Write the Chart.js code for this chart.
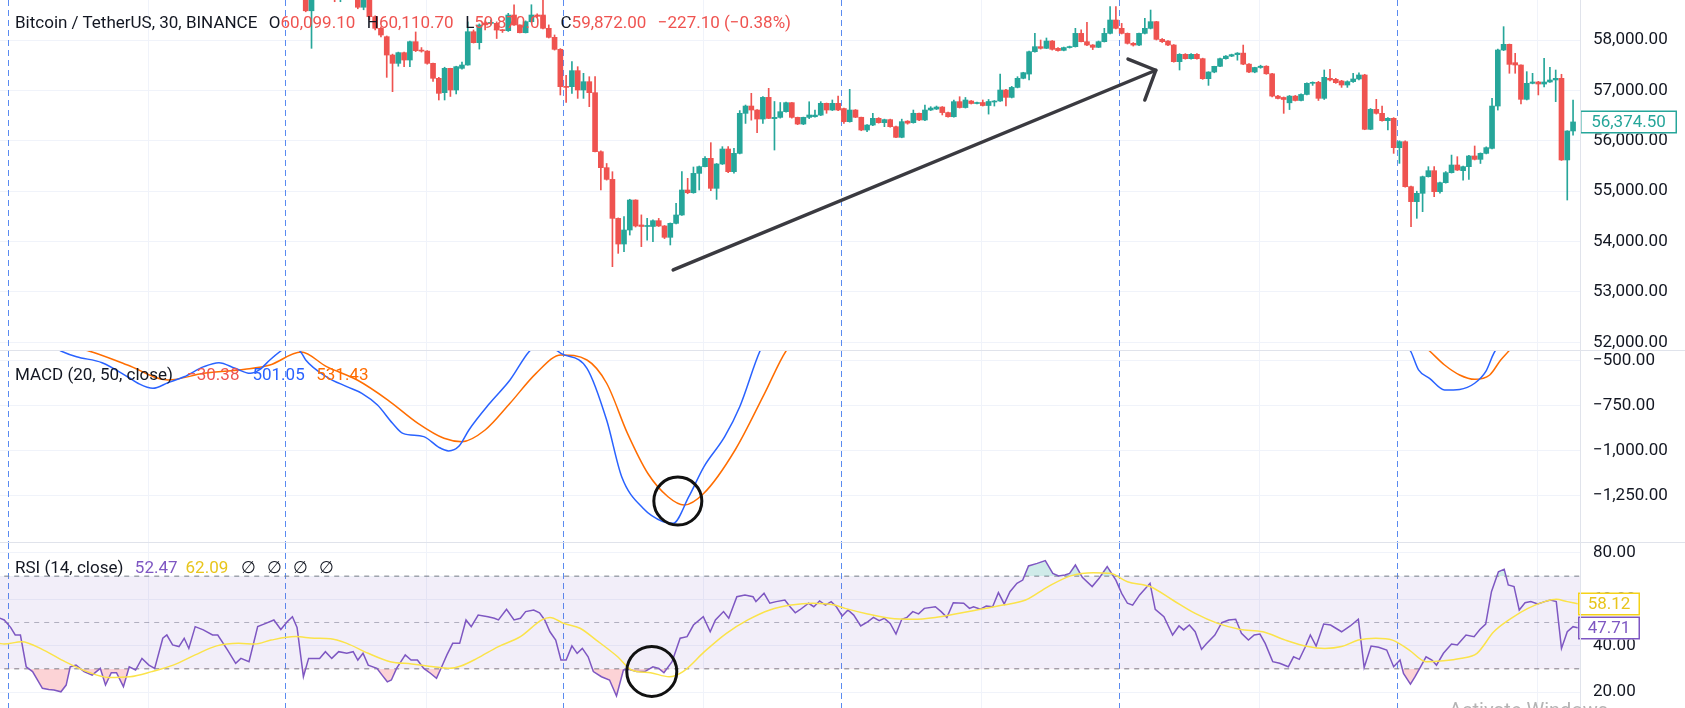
<!DOCTYPE html>
<html>
<head>
<meta charset="UTF-8">
<title>Bitcoin / TetherUS, 30, BINANCE</title>
<script src="https://cdn.jsdelivr.net/npm/chart.js"></script>
<style>
    body { margin: 0; background: #ffffff; font-family: Roboto, sans-serif; }
    #chart { position: relative; width: 1685px; height: 708px; overflow: hidden; }
    #chart canvas { position: absolute; left: 0; }
    .sep { position: absolute; background: #e0e3eb; }
    .legend { position: absolute; left: 15px; font-size: 17px; line-height: 20px; color: #131722; white-space: nowrap; }
    .legend span { margin-left: 11.5px; }
    .legend span.v { margin-left: 0; }
    .red { color: #ef5350; }
    .watermark { position: absolute; left: 1449px; top: 700px; font-size: 20px; line-height: 20px; color: #b4b4b4; white-space: nowrap; }
</style>
</head>
<body>
<div id="chart">
    <canvas id="priceCanvas" width="1685" height="350" style="top:0"></canvas>
    <canvas id="macdCanvas" width="1685" height="191" style="top:351px"></canvas>
    <canvas id="rsiCanvas" width="1685" height="165" style="top:543px"></canvas>
    <div class="sep" style="left:0;top:350px;width:1685px;height:1px"></div>
    <div class="sep" style="left:0;top:542px;width:1685px;height:1px"></div>
    <div class="sep" style="left:1580px;top:0;width:1px;height:708px"></div>

    <div class="legend" style="top:12px">Bitcoin / TetherUS, 30, BINANCE<span>O</span><span class="v red">60,099.10</span><span>H</span><span class="v red">60,110.70</span><span>L</span><span class="v red">59,870.01</span><span>C</span><span class="v red">59,872.00</span><span class="red">&minus;227.10 (&minus;0.38%)</span></div>
    <div class="legend" style="top:364px">MACD (20, 50, close)<span style="color:#ef5350;margin-left:14px">&minus;30.38</span><span style="color:#2962ff;margin-left:13px">501.05</span><span style="color:#ff6d00">531.43</span></div>
    <div class="legend" style="top:557px">RSI (14, close)<span style="color:#7e57c2">52.47</span><span style="color:#e8c51c;margin-left:8px">62.09</span><span style="margin-left:13px">&empty;</span><span style="margin-left:11px">&empty;</span><span style="margin-left:11px">&empty;</span><span style="margin-left:11px">&empty;</span></div>
    <div class="watermark">Activate Windows</div>
</div>

<script>
    // candles, index counted in 30 minute bars from the first session break
    const firstCandle = 51;
    const opens = [
        58900, 58580, 58850, 59050, 59200, 59000, 58950, 59050, 59150, 58900,
        58650, 58850, 58463, 58232, 58066, 57702, 57537, 57749, 57603, 57967,
        57800, 57780, 57537, 57240, 56955, 57438, 57008, 57438, 57504, 58165,
        57947, 58340, 58330, 58331, 58198, 58185, 58496, 58298, 58145, 58364,
        58496, 58496, 58232, 58053, 57815, 57074, 57074, 57392, 57008, 57173,
        56955, 55784, 55467, 55235, 54461, 53952, 54230, 54825, 54330, 54300,
        54300, 54415, 54310, 54085, 54362, 54528, 55024, 54970, 55354, 55487,
        55652, 55057, 55540, 55837, 55387, 55751, 56545, 56690, 56611, 56432,
        56862, 56440, 56465, 56578, 56757, 56465, 56333, 56465, 56478, 56510,
        56744, 56611, 56744, 56640, 56380, 56611, 56467, 56214, 56313, 56446,
        56360, 56420, 56280, 56069, 56390, 56360, 56546, 56413, 56611, 56630,
        56670, 56560, 56478, 56777, 56660, 56790, 56740, 56760, 56700, 56770,
        56790, 57008, 56862, 57060, 57240, 57325, 57768, 57868, 57835, 57980,
        57835, 57795, 57850, 57868, 58132, 57967, 57901, 57855, 57967, 58132,
        58397, 58232, 58132, 57934, 57900, 58132, 58232, 58364, 58013, 57980,
        57901, 57570, 57716, 57630, 57716, 57630, 57233, 57365, 57478, 57630,
        57680, 57710, 57740, 57521, 57365, 57455, 57480, 57330, 56887, 56860,
        56754, 56887, 56800, 56920, 57141, 57160, 56843, 57240, 57220, 57187,
        57107, 57174, 57227, 57306, 56228, 56624, 56545, 56400, 56446, 55864,
        55983, 55090, 54793, 54958, 55288, 55407, 54991, 55169, 55368, 55520,
        55407, 55487, 55699, 55632, 55751, 55850, 56690, 57802, 57914, 57550,
        57504, 56823, 57140, 57167, 57127, 57167, 57207, 57240, 55620, 56195
    ];
    const highs = [
        59000, 58950, 59150, 59300, 59350, 59150, 59100, 59250, 59200, 58950,
        58900, 58900, 58480, 58260, 58080, 57720, 57760, 57760, 57980, 58160,
        57850, 57790, 57540, 57260, 57460, 57440, 57480, 57560, 58360, 58200,
        58320, 58380, 58400, 58360, 58210, 58530, 58700, 58300, 58380, 58700,
        58520, 58794, 58300, 58100, 57830, 57300, 57570, 57471, 57339, 57272,
        57272, 55800, 55550, 55387, 54470, 54495, 54840, 54830, 54530, 54460,
        54430, 54460, 54320, 54370, 54760, 55387, 55255, 55480, 55500, 55685,
        55963, 55550, 55884, 55884, 55850, 56600, 56710, 56942, 56620, 56880,
        57041, 56780, 56760, 56770, 56760, 56470, 56470, 56775, 56611, 56777,
        56750, 56810, 56888, 56650, 57021, 56620, 56470, 56320, 56546, 56460,
        56430, 56430, 56290, 56430, 56400, 56611, 56550, 56710, 56677, 56690,
        56680, 56570, 56810, 56875, 56860, 56800, 56770, 56810, 56820, 56800,
        57325, 57020, 57080, 57272, 57360, 57780, 58132, 58000, 58040, 57990,
        57850, 57860, 57880, 58232, 58200, 58350, 57910, 57980, 58232, 58662,
        58662, 58330, 58140, 57950, 58140, 58430, 58595, 58370, 58030, 57990,
        57910, 57730, 57730, 57730, 57730, 57640, 57370, 57480, 57640, 57690,
        57720, 57750, 57900, 57530, 57460, 57500, 57490, 57340, 56900, 56870,
        56900, 56900, 56930, 57150, 57170, 57180, 57405, 57418, 57240, 57200,
        57190, 57340, 57350, 57320, 56640, 56823, 56690, 56460, 56460, 56000,
        56000, 55100, 55000, 55300, 55487, 55487, 55180, 55390, 55717, 55685,
        55500, 55710, 55897, 55760, 55880, 56843, 57820, 58265, 57920, 57736,
        57510, 57372, 57339, 57180, 57636, 57458, 57405, 57320, 56200, 56810
    ];
    const lows = [
        58560, 57835, 58830, 59000, 58950, 58760, 58760, 58950, 58850, 58620,
        58600, 58400, 58200, 58060, 57259, 56975, 57480, 57470, 57470, 57770,
        57760, 57520, 57180, 56810, 56810, 56880, 56930, 57420, 57500, 57940,
        57820, 58200, 58300, 58030, 58150, 58170, 58290, 58140, 58140, 58350,
        58450, 58220, 58040, 57800, 56909, 56760, 56940, 56842, 56842, 56677,
        55780, 55024, 55220, 53502, 53767, 53800, 54130, 54290, 53900, 54030,
        54000, 54300, 54060, 53933, 54350, 54520, 54950, 54960, 55024, 55480,
        55010, 54838, 55530, 55370, 55360, 55740, 56345, 56410, 56161, 56345,
        56440, 55817, 56450, 56570, 56450, 56320, 56320, 56440, 56470, 56500,
        56546, 56600, 56600, 56347, 56370, 56460, 56200, 56180, 56300, 56350,
        56280, 56270, 56060, 56060, 56330, 56350, 56400, 56400, 56600, 56620,
        56513, 56470, 56470, 56650, 56650, 56730, 56730, 56690, 56530, 56690,
        56780, 56690, 56850, 57050, 57230, 57210, 57760, 57820, 57830, 57800,
        57780, 57785, 57840, 57860, 57960, 57890, 57810, 57850, 57960, 58120,
        58220, 58120, 57920, 57880, 57890, 58120, 58220, 58000, 57950, 57890,
        57560, 57405, 57620, 57620, 57620, 57220, 57100, 57350, 57470, 57620,
        57670, 57600, 57510, 57350, 57350, 57440, 57320, 56870, 56830, 56545,
        56620, 56790, 56790, 56910, 57100, 56800, 56820, 57190, 57140, 57060,
        57060, 57160, 57210, 56220, 56220, 56530, 56390, 56215, 55751, 55553,
        55080, 54296, 54462, 54594, 55280, 54890, 54960, 55160, 55360, 55410,
        55220, 55235, 55620, 55550, 55740, 55840, 56610, 57790, 57340, 57340,
        56730, 56810, 57130, 56910, 57070, 57160, 56777, 55610, 54825, 56110
    ];
    const closes = [
        58580, 58850, 59050, 59200, 59000, 58950, 59050, 59150, 58900, 58650,
        58850, 58463, 58232, 58099, 57702, 57537, 57749, 57603, 57967, 57788,
        57780, 57537, 57240, 56942, 57438, 57008, 57471, 57504, 58165, 57947,
        58298, 58300, 58345, 58198, 58185, 58496, 58298, 58145, 58364, 58496,
        58470, 58232, 58053, 57815, 57074, 57060, 57392, 57008, 57173, 56955,
        55784, 55467, 55235, 54461, 53952, 54230, 54825, 54310, 54300, 54320,
        54415, 54310, 54085, 54362, 54528, 55024, 54970, 55354, 55487, 55652,
        55057, 55540, 55837, 55387, 55751, 56545, 56690, 56611, 56432, 56862,
        56445, 56465, 56578, 56757, 56465, 56333, 56465, 56512, 56510, 56744,
        56611, 56744, 56611, 56380, 56611, 56467, 56214, 56313, 56446, 56360,
        56420, 56280, 56069, 56380, 56350, 56546, 56413, 56611, 56650, 56670,
        56560, 56478, 56777, 56660, 56810, 56740, 56760, 56700, 56780, 56790,
        57008, 56862, 57060, 57240, 57352, 57768, 57868, 57835, 57980, 57815,
        57790, 57850, 57868, 58132, 57967, 57901, 57855, 57967, 58132, 58397,
        58232, 58132, 57934, 57900, 58132, 58232, 58364, 58013, 57967, 57901,
        57570, 57716, 57630, 57716, 57630, 57233, 57365, 57478, 57630, 57680,
        57710, 57740, 57521, 57365, 57455, 57480, 57330, 56887, 56840, 56820,
        56887, 56800, 56920, 57141, 57160, 56843, 57260, 57207, 57154, 57107,
        57174, 57227, 57306, 56228, 56624, 56545, 56400, 56446, 55864, 55983,
        55090, 54793, 54958, 55288, 55407, 54991, 55169, 55368, 55520, 55420,
        55487, 55699, 55632, 55751, 55864, 56690, 57802, 57914, 57517, 57504,
        56823, 57140, 57167, 57127, 57167, 57207, 57240, 55620, 56195, 56374.5
    ];

    // MACD (20, 50) line and signal, read at the bar index shown
    const macdIdx = [-2, 4, 8.7, 11.4, 15.8, 20.2, 22, 24.6, 27.2, 30, 33.4, 36, 38.8, 41.4, 43.1,
        44.8, 46.7, 48.5, 50.2, 51, 54.6, 58.1, 60.7, 63.4, 66, 67.8, 71.4, 74, 75.7, 77.5,
        79.2, 82.8, 86.3, 89.7, 92, 94.5, 95.1, 99.6, 103, 105.6, 109.3, 112.7, 114.5, 117.2, 119.8,
        123.4, 126, 129.5, 133, 150, 175, 195, 215, 232, 239, 241.9, 243.3, 245.2, 247.8, 250.4,
        253, 254.9, 256.3, 257.5, 262, 272];
    const macdVals = [-260, -360, -446, -478, -511, -589, -625, -653, -622, -589, -533, -511, -542, -570, -548,
        -496, -446, -410, -454, -496, -589, -644, -681, -746, -847, -903, -921, -980, -1000, -973,
        -884, -736, -607, -446, -400, -446, -459, -542, -829, -1143, -1318, -1392, -1401, -1254, -1088,
        -921, -755, -446, -250, 100, 400, 450, 200, -100, -360, -446, -551, -598, -662, -659,
        -625, -561, -459, -400, -150, 50];
    const signalIdx = [-2, 6, 13.5, 20.2, 27.2, 33.4, 40.5, 44.8, 50.2, 54.6, 59.9, 65.2, 70.4, 74.9, 78,
        82, 86.3, 90.8, 95.1, 99.6, 103, 106.6, 110.1, 113.6, 116.4, 119.8, 125.2, 130.3, 134, 140,
        160, 185, 205, 225, 238, 245.2, 247.8, 250.4, 253, 255.6, 257.5, 258.9, 264, 272];
    const signalVals = [-330, -400, -446, -524, -607, -570, -548, -524, -452, -533, -607, -718, -847, -930, -949,
        -884, -736, -570, -468, -496, -625, -903, -1124, -1254, -1300, -1235, -995, -681, -446, -250,
        50, 300, 350, 150, -250, -446, -524, -579, -603, -579, -496, -446, -250, -50];

    // RSI (14) and its moving average
    const rsiIdx = [-2, -1.1, 0, 0.8, 1.7, 2.7, 3.8, 5.5, 6.6, 7.5, 8.7, 9.6, 10.3, 11.3, 12.7, 14.1, 15.5, 16.4, 17.4, 18.3,
        19.5, 20.5, 21.6, 22.7, 23.9, 24.9, 26.3, 27, 28, 29.1, 30, 30.8, 31.9, 33.3, 34.9, 35.8, 37.5, 38.9, 39.8, 41.2,
        42.7, 44.1, 45.5, 46.7, 47.8, 48.7, 49.5, 50.6, 51.5, 53.4, 54.4, 55.5, 56.7, 58.1, 59.2, 60, 60.9, 61.8, 63.3, 64.2,
        65.1, 65.8, 66.7, 68.2, 69.2, 70.3, 71.4, 72.6, 73.6, 74.5, 75.4, 76.4, 77.6, 78.7, 79.6, 80.8, 82.5, 83.6, 84.3, 85.7,
        87, 88.1, 89, 90.4, 91.4, 92.3, 93.2, 94.2, 95.1, 96, 97, 97.9, 98.8, 99.8, 100.7, 102.1, 103.5, 104.7, 105.9, 106.8,
        108.2, 109.6, 111, 112, 112.9, 114.3, 115.7, 116.9, 118, 119.7, 120.9, 121.8, 123.2, 124.1, 125.5, 126.9, 128.3, 128.8, 130.2, 131.2,
        132.3, 133.8, 134.7, 135.6, 136.4, 137.9, 138.8, 139.8, 140.8, 141.8, 142.7, 143.7, 144.7, 145.7, 146.9, 148.1, 149.1, 150.1, 151, 152,
        153, 154, 154.9, 155.9, 156.9, 157.9, 159.8, 160.8, 161.8, 162.9, 164.7, 165.7, 166.4, 167.6, 168.6, 169.7, 170.7, 171.7, 172.7, 173.9,
        174.9, 175.9, 177.4, 178.8, 180.1, 181.1, 182.2, 183, 184, 185.2, 186.9, 188.1, 189.5, 191, 192, 193, 193.9, 195.1, 196.9, 197.8,
        199.3, 200.8, 201.9, 202.7, 203.7, 204.7, 205.8, 206.6, 208.1, 209.3, 210.5, 211.7, 212.7, 213.9, 214.9, 215.9, 216.8, 218.1, 219.3, 220.8,
        221.7, 222.7, 223.7, 224.6, 225.6, 226.9, 228.1, 230, 231.5, 232.9, 233.9, 235.1, 236.4, 237.8, 239, 240.1, 240.7, 241.9, 242.7, 243.5,
        244.6, 245.6, 246.4, 247.6, 249, 250, 251.5, 252.9, 253.9, 254.9, 255.9, 257.1, 258.1, 258.8, 259.8, 260.7, 261.7, 262.7, 263.9, 265.1,
        266.1, 267.1, 268, 269, 270, 270.8];
    const rsiVals = [52, 51.1, 47.9, 44.6, 44.6, 30.9, 28.8, 21.6, 21.1, 20.9, 20.1, 23, 30.9, 31.6, 28.8, 27.3, 30.2, 23, 28.3, 28.3,
        22.3, 30.9, 29.5, 34.5, 31.6, 30.2, 43.2, 44.6, 40.3, 39.6, 43.2, 38.8, 48.2, 46.8, 44.6, 44.6, 38.1, 32.4, 34.5, 33.1,
        48.2, 49.6, 51.1, 47, 50.3, 52.5, 47.9, 26.6, 34.5, 34.5, 37.4, 34.5, 37.4, 36.7, 37.4, 33.8, 36.7, 31.6, 30.2, 27.3,
        24.4, 25.2, 30.2, 36, 33.8, 33.8, 30.2, 28, 25.9, 30.9, 36, 41, 41, 51.1, 48.2, 53.2, 52.5, 51.8, 51.1, 55.7,
        51.1, 51.8, 54.7, 55.4, 54.2, 51.1, 46, 42.4, 33.8, 33.8, 39.9, 36.7, 38.8, 35.2, 28.8, 26.6, 25.2, 18.3, 29.5, 29.8,
        28.8, 28.8, 30.9, 30.2, 28.3, 33.1, 43.2, 43.9, 48.9, 52.5, 46, 51.1, 54.7, 51.8, 61.1, 61.9, 61.1, 59, 62.6, 58.3,
        59, 59.7, 56.8, 54.2, 55.5, 58.3, 56.8, 59.3, 57.5, 59, 56.8, 52.8, 55.4, 53.2, 48.5, 50.3, 52.2, 50.8, 51.8, 49.6,
        45, 51.4, 52.2, 54.7, 53.7, 56.1, 56.8, 54.7, 52.2, 58.5, 58.3, 56.1, 56.8, 55.7, 57.1, 56.8, 62.9, 58, 63.3, 66.9,
        68.3, 74.4, 75.5, 76.7, 71.2, 70.1, 70.5, 71.2, 74.8, 69.5, 65.5, 69.1, 74.1, 68.3, 62.6, 58.3, 57.5, 61.9, 66.9, 55.7,
        52.5, 44.6, 48.5, 46.8, 48.9, 46, 38.4, 40.7, 44.6, 49.9, 51.1, 51.4, 45.3, 42.4, 44.6, 45, 41, 33.1, 32.4, 30.9,
        35.2, 34.1, 39.3, 44.6, 39.8, 49.3, 48.9, 46, 48.5, 51.4, 30.6, 39.8, 39.3, 38.1, 30.9, 33.8, 28, 23.4, 26.6, 30.2,
        35.2, 33.8, 31.6, 36.7, 40.7, 40.3, 44.6, 43.9, 47, 49.3, 63.3, 71.9, 73, 66.2, 65.5, 55.4, 58.5, 59, 58, 59,
        59.7, 59, 38.8, 46, 48.2, 47.71];
    const maIdx = [-2, -1.1, 1.9, 5.7, 9.4, 13.2, 16.9, 20.6, 24.4, 28.1, 31.9, 35.6, 39.4, 42.2, 45, 49.2, 52.5, 55.3, 58.1, 61.8,
        65.6, 69.3, 73.1, 75.9, 77.8, 80.6, 84.3, 88.1, 91.8, 93.2, 95.6, 98.4, 101.2, 104.9, 107.3, 110.6, 113.8, 116.2, 119.9, 123.7,
        127.4, 131.2, 134.9, 138.6, 142.4, 144.2, 148.1, 152, 155.9, 159.8, 163.7, 167.6, 171.5, 175.4, 179.3, 183.2, 187.1, 190, 193, 196.9,
        200.8, 204.7, 208.6, 212.5, 216.4, 220.3, 224.2, 227.1, 230, 232.9, 235.9, 238.8, 241.7, 244.6, 247.6, 250.5, 253.4, 256.3, 259.3, 262.2,
        265.1, 267.1, 269, 270.8];
    const maVals = [41, 40.7, 41.7, 38.1, 33.1, 28.8, 26.3, 26.6, 28.8, 31.6, 36, 39.9, 41, 40.7, 42.4, 43.9, 43.2, 43, 41, 36.7,
        33.1, 32.1, 30.9, 30.2, 31.2, 34.5, 39.6, 43.9, 51.1, 52.2, 49.6, 47.5, 42.4, 35.2, 29.5, 28.3, 26.6, 28.8, 37.4, 45.3,
        51.1, 55.4, 57.5, 58.3, 57.5, 56.1, 53.7, 51.8, 51.4, 52.2, 53.9, 55.7, 57.5, 59.7, 65.5, 70.1, 71.5, 71.2, 67.6, 65.5,
        59.7, 53.9, 49.6, 47, 46, 42.4, 39.6, 38.8, 39.6, 42.4, 43.2, 42.4, 38.1, 33.1, 33.5, 34.5, 36.7, 46, 51.8, 56.1,
        59, 60, 59, 58.12];

    // axis ticks, levels and session lines (bar index)
    const priceTicks = [52000, 53000, 54000, 55000, 56000, 57000, 58000];
    const macdTicks = [-1250, -1000, -750, -500];
    const rsiTicks = [20, 40, 60, 80];
    const rsiLevels = [70, 50, 30];
    const sessionBreaks = [-0.5, 47.5, 95.5, 143.5, 191.5, 239.5];
    const midSessionLines = [23.7, 71.7, 119.7, 167.7, 215.7, 263.7];

    // hand drawn marks: arrow on price, circles on MACD and RSI
    const arrowShaft = [[114.5, 53437], [197.9, 57400]];
    const arrowHead = [[193.1, 57623], [197.9, 57400], [196.0, 56810]];
    const macdMark = [115.3, -1278];
    const rsiMark = [110.8, 28.9];

    const xRange = [-1.83, 271.2];
    const priceRange = [51849, 58794];
    const macdRange = [-1505, -446.2];
    const rsiRange = [13.1, 84.3];

    const UP = '#26a69a', DOWN = '#ef5350';

    const pts = (xs, ys) => xs.map((x, i) => ({ x: x, y: ys[i] }));
    const pairs = arr => arr.map(p => ({ x: p[0], y: p[1] }));
    const money = v => Math.abs(v).toLocaleString('en-US', { minimumFractionDigits: 2, maximumFractionDigits: 2 });
    const signed = v => (v < 0 ? '\u2212' : '') + money(v);
    const candleColor = i => closes[i] >= opens[i] ? UP : DOWN;

    const bodies = opens.map((o, i) => ({ x: firstCandle + i, y: [o, closes[i]] }));
    const wicks = opens.map((o, i) => ({ x: firstCandle + i, y: [lows[i], highs[i]] }));

    Chart.defaults.font.family = 'Roboto, sans-serif';

    const verticalLines = {
        id: 'verticalLines',
        beforeDatasetsDraw(chart) {
            const { ctx, chartArea: a, scales: { x } } = chart;
            ctx.save();
            ctx.lineWidth = 1;
            ctx.strokeStyle = '#f0f3fa';
            midSessionLines.forEach(v => {
                const px = Math.round(x.getPixelForValue(v)) + 0.5;
                ctx.beginPath(); ctx.moveTo(px, a.top); ctx.lineTo(px, a.bottom); ctx.stroke();
            });
            ctx.strokeStyle = '#5a8bf0';
            ctx.setLineDash([6, 4]);
            sessionBreaks.forEach(v => {
                const px = Math.round(x.getPixelForValue(v)) + 0.5;
                ctx.beginPath(); ctx.moveTo(px, a.top); ctx.lineTo(px, a.bottom); ctx.stroke();
            });
            ctx.restore();
        }
    };

    function labelBoxes(items) {
        return {
            id: 'labelBoxes',
            afterDraw(chart) {
                const ctx = chart.ctx, y = chart.scales.y;
                ctx.save();
                ctx.font = '17px Roboto, sans-serif';
                ctx.textAlign = 'center';
                ctx.textBaseline = 'middle';
                items.forEach(it => {
                    const py = Math.round(y.getPixelForValue(it.value));
                    const left = it.left, h = 23;
                    ctx.fillStyle = '#ffffff';
                    ctx.fillRect(left, py - h / 2, it.width, h);
                    ctx.strokeStyle = it.color;
                    ctx.lineWidth = 1.5;
                    ctx.strokeRect(left + 0.75, py - h / 2 + 0.75, it.width - 1.5, h - 1.5);
                    ctx.fillStyle = it.text_color || it.color;
                    ctx.fillText(it.text, left + it.width / 2, py + 1);
                });
                ctx.restore();
            }
        };
    }

    function options(range, ticks, fmt) {
        return {
            responsive: false,
            animation: false,
            devicePixelRatio: 1,
            layout: { padding: 0, autoPadding: false },
            plugins: { legend: { display: false }, tooltip: { enabled: false } },
            scales: {
                x: { type: 'linear', min: xRange[0], max: xRange[1], display: false, offset: false },
                y: {
                    type: 'linear', position: 'right', min: range[0], max: range[1],
                    afterBuildTicks: s => { s.ticks = ticks.map(v => ({ value: v })); },
                    // keep the plot full height: no room reserved for the edge labels
                    afterFit: s => { s.width = 105; s.paddingTop = 0; s.paddingBottom = 0; },
                    grid: { color: '#f0f3fa', drawTicks: false },
                    border: { display: false },
                    ticks: { color: '#131722', padding: 13, font: { size: 17 }, callback: fmt }
                }
            }
        };
    }

    const last = closes.length - 1;

    new Chart(document.getElementById('priceCanvas'), {
        type: 'bar',
        data: {
            datasets: [
                { type: 'line', data: pairs(arrowShaft), borderColor: '#3a3a40', borderWidth: 3.5, pointRadius: 0, borderCapStyle: 'round' },
                { type: 'line', data: pairs(arrowHead), borderColor: '#3a3a40', borderWidth: 3.5, pointRadius: 0, borderCapStyle: 'round', borderJoinStyle: 'round' },
                { data: bodies, backgroundColor: c => candleColor(c.dataIndex), barThickness: 5, grouped: false, minBarLength: 1, borderWidth: 0 },
                { data: wicks, backgroundColor: c => candleColor(c.dataIndex), barThickness: 1, grouped: false, borderWidth: 0 }
            ]
        },
        options: options(priceRange, priceTicks, money),
        plugins: [verticalLines, labelBoxes([{ value: closes[last], text: money(closes[last]), color: UP, left: 1580, width: 97 }])]
    });

    new Chart(document.getElementById('macdCanvas'), {
        type: 'line',
        data: {
            datasets: [
                { data: [{ x: macdMark[0], y: macdMark[1] }], showLine: false, pointRadius: 24, pointBorderWidth: 3, pointBorderColor: '#111111', pointBackgroundColor: 'rgba(0,0,0,0)' },
                { data: pts(macdIdx, macdVals), borderColor: '#2962ff', borderWidth: 1.5, pointRadius: 0, cubicInterpolationMode: 'monotone' },
                { data: pts(signalIdx, signalVals), borderColor: '#ff6d00', borderWidth: 1.5, pointRadius: 0, cubicInterpolationMode: 'monotone' }
            ]
        },
        options: options(macdRange, macdTicks, signed),
        plugins: [verticalLines]
    });

    const rsiLast = rsiVals[rsiVals.length - 1], maLast = maVals[maVals.length - 1];
    const levelLine = v => pts(xRange.map((x, i) => i ? x + 1 : x - 1), [v, v]);

    new Chart(document.getElementById('rsiCanvas'), {
        type: 'line',
        data: {
            datasets: [
                { data: [{ x: rsiMark[0], y: rsiMark[1] }], showLine: false, pointRadius: 25, pointBorderWidth: 3, pointBorderColor: '#111111', pointBackgroundColor: 'rgba(0,0,0,0)' },
                { data: pts(maIdx, maVals), borderColor: '#fbe34a', borderWidth: 1.5, pointRadius: 0, cubicInterpolationMode: 'monotone' },
                {
                    data: pts(rsiIdx, rsiVals), borderColor: '#7e57c2', borderWidth: 1.5, pointRadius: 0,
                    fill: { target: { value: rsiLevels[2] }, above: 'rgba(0,0,0,0)', below: 'rgba(242,54,69,0.22)' }
                },
                {
                    data: pts(rsiIdx, rsiVals), borderWidth: 0, pointRadius: 0,
                    fill: { target: { value: rsiLevels[0] }, above: 'rgba(38,166,154,0.22)', below: 'rgba(0,0,0,0)' }
                },
                { data: levelLine(rsiLevels[0]), borderColor: '#787b86', borderWidth: 1, borderDash: [5, 5], pointRadius: 0 },
                { data: levelLine(rsiLevels[2]), borderColor: '#787b86', borderWidth: 1, borderDash: [5, 5], pointRadius: 0, fill: '-1', backgroundColor: 'rgba(126,87,194,0.1)' },
                { data: levelLine(rsiLevels[1]), borderColor: 'rgba(120,123,134,0.55)', borderWidth: 1, borderDash: [5, 5], pointRadius: 0 }
            ]
        },
        options: options(rsiRange, rsiTicks, v => money(v)),
        plugins: [verticalLines, labelBoxes([
            { value: maLast, text: maLast.toFixed(2), color: '#f5d218', text_color: '#e8c51c', left: 1578, width: 62 },
            { value: rsiLast, text: rsiLast.toFixed(2), color: '#7e57c2', left: 1578, width: 62 }
        ])]
    });
</script>
</body>
</html>
